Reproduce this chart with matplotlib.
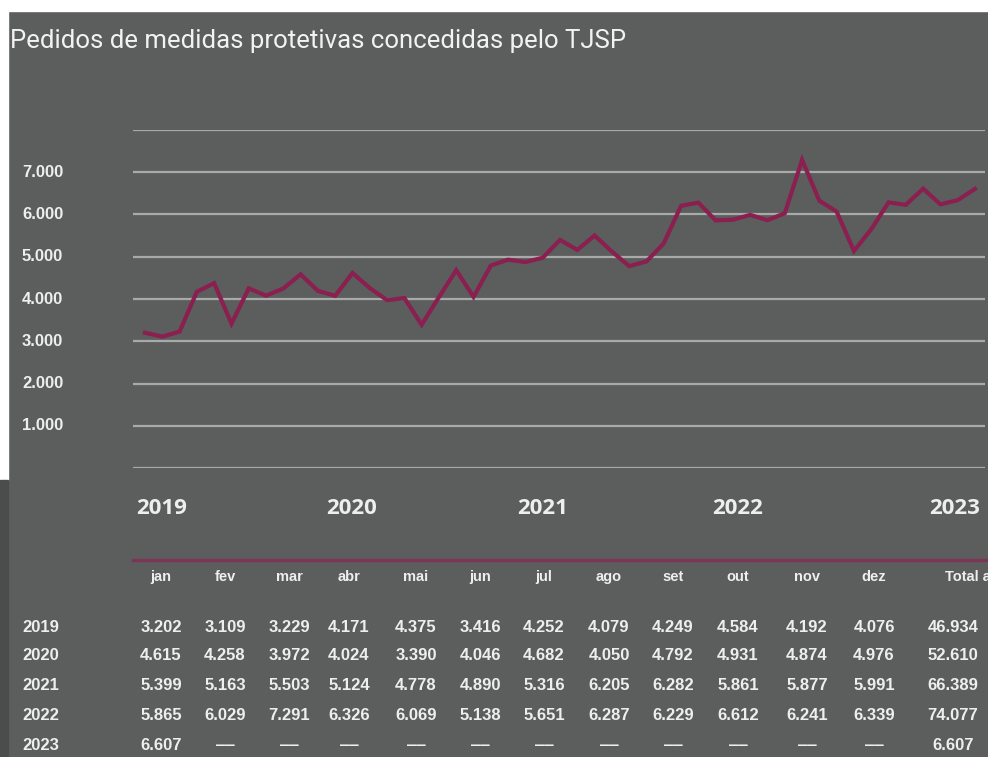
import numpy as np
import matplotlib.pyplot as plt
import matplotlib.transforms as mtransforms
from matplotlib.patches import Rectangle

# monthly counts per year (None = month not yet available)
anos = ['2019', '2020', '2021', '2022', '2023']
meses = ['jan', 'fev', 'mar', 'abr', 'mai', 'jun', 'jul', 'ago', 'set', 'out', 'nov', 'dez']
v2019 = [3202, 3109, 3229, 4171, 4375, 3416, 4252, 4079, 4249, 4584, 4192, 4076]
v2020 = [4615, 4258, 3972, 4024, 3390, 4046, 4682, 4050, 4792, 4931, 4874, 4976]
v2021 = [5399, 5163, 5503, 5124, 4778, 4890, 5316, 6205, 6282, 5861, 5877, 5991]
v2022 = [5865, 6029, 7291, 6326, 6069, 5138, 5651, 6287, 6229, 6612, 6241, 6339]
v2023 = [6607] + [None] * 11
yticks = [1000, 2000, 3000, 4000, 5000, 6000, 7000]

tabela = [v2019, v2020, v2021, v2022, v2023]
serie = [v for ano in tabela for v in ano if v is not None]


def fmt(v):
    return f"{v:,}".replace(",", ".")


W, H = 988, 757
bg = '#5b5e5d'
fg = '#eeeeee'
mag = '#8a1f50'

fig = plt.figure(figsize=(W / 100, H / 100), dpi=100, facecolor=bg)

# white margin at top/left, darker strip below
fig.patches.append(Rectangle((0, 1 - 11 / H), 1, 11 / H, transform=fig.transFigure, color='white', zorder=0))
fig.patches.append(Rectangle((0, 1 - 480 / H), 8 / W, 480 / H, transform=fig.transFigure, color='white', zorder=0))
fig.patches.append(Rectangle((0, 0), 8 / W, 1 - 480 / H, transform=fig.transFigure, color='#4b4d4c', zorder=0))

fig.text(10 / W, 1 - 41 / H, 'Pedidos de medidas protetivas concedidas pelo TJSP',
         family='Roboto', fontsize=18.5, color='#f2f2f2', va='center', ha='left')

# line chart
ax = fig.add_axes([133 / W, 1 - 468 / H, 852 / W, 338 / H])
ax.set_facecolor('none')
x = np.arange(len(serie))
ax.plot(x, serie, color=mag, lw=3, solid_joinstyle='miter', zorder=3)
ax.set_xlim(-12 / 17.29, 48 + 10 / 17.29)
ax.set_ylim(0, 8000)
for g in range(0, 8001, 1000):
    ax.axhline(g, color='#a8aaa9', lw=1.6, zorder=1)
for s in ax.spines.values():
    s.set_visible(False)
ax.set_xticks([])
ax.set_yticks([])

trans = mtransforms.blended_transform_factory(fig.transFigure, ax.transData)
for t in yticks:
    fig.text(22 / W, t, fmt(t), transform=trans, family='Liberation Sans', weight='bold',
             fontsize=12, color=fg, va='center', ha='left')

# year labels under the chart
ano_x = [162, 352, 543, 738, 955]
for a, xp in zip(anos, ano_x):
    fig.text(xp / W, 1 - 508 / H, a, family='Open Sans', weight='bold', fontsize=16,
             color=fg, va='center', ha='center')

# separator
fig.add_artist(plt.Line2D([133 / W, 1], [1 - 560 / H] * 2, transform=fig.transFigure,
                          color='#7c3556', lw=2.5))

# table
col_x = [161, 225, 289, 349, 416, 480, 544, 609, 673, 738, 807, 874, 953]
for m, xp in zip(meses, col_x):
    fig.text(xp / W, 1 - 577 / H, m, family='Liberation Sans', weight='bold', fontsize=10.5,
             color=fg, va='center', ha='center')
fig.text(945 / W, 1 - 577 / H, 'Total ano', family='Liberation Sans', weight='bold', fontsize=10.5,
         color=fg, va='center', ha='left')

row_y = [627, 656, 686, 716, 746]
for a, vals, yp in zip(anos, tabela, row_y):
    fig.text(22 / W, 1 - yp / H, a, family='Liberation Sans', weight='bold', fontsize=12,
             color=fg, va='center', ha='left')
    total = sum(v for v in vals if v is not None)
    cells = [fmt(v) if v is not None else '‒‒' for v in vals] + [fmt(total)]
    for c, xp in zip(cells, col_x):
        fig.text(xp / W, 1 - yp / H, c, family='Liberation Sans', weight='bold', fontsize=12,
                 color=fg, va='center', ha='center')

fig.savefig('out.png', dpi=100, facecolor=bg)
